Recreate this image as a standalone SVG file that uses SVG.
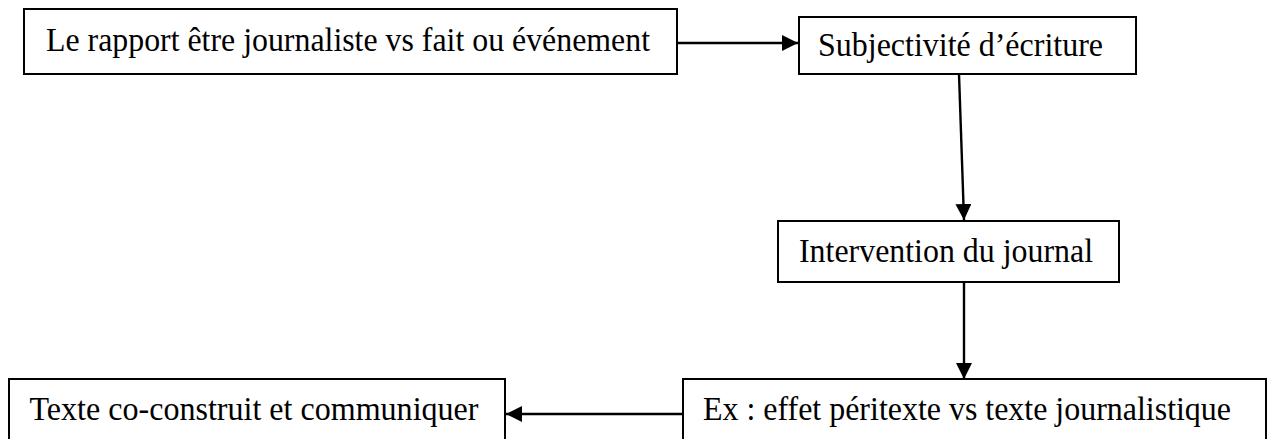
<svg xmlns="http://www.w3.org/2000/svg" width="1272" height="439" viewBox="0 0 1272 439">
  <style>
    .box { fill: #ffffff; stroke: #000000; stroke-width: 2; }
    .label { font-family: "Liberation Serif", "Times New Roman", serif; font-size: 34px; fill: #000000; }
    .edge { fill: none; stroke: #000000; stroke-width: 2.4; marker-end: url(#arrow); }
  </style>
  <defs>
    <marker id="arrow" markerUnits="userSpaceOnUse" markerWidth="17" markerHeight="17" refX="16" refY="8" orient="auto">
      <path d="M0,0 L16,8 L0,16 z" fill="#000000"/>
    </marker>
  </defs>
  <rect width="1272" height="439" fill="#ffffff"/>

  <g id="connectors">
    <line class="edge" x1="677" y1="43" x2="798" y2="43"/>
    <line class="edge" x1="959" y1="74" x2="964" y2="220"/>
    <line class="edge" x1="964" y1="282" x2="964" y2="379"/>
    <line class="edge" x1="683" y1="414" x2="506" y2="414"/>
  </g>

  <g id="node-rapport">
    <rect class="box" x="24" y="9" width="653" height="65"/>
    <text class="label" x="46" y="51" textLength="604" lengthAdjust="spacingAndGlyphs">Le rapport être journaliste vs fait ou événement</text>
  </g>

  <g id="node-subjectivite">
    <rect class="box" x="799" y="17" width="337" height="57"/>
    <text class="label" x="818" y="56" textLength="285" lengthAdjust="spacingAndGlyphs">Subjectivité d’écriture</text>
  </g>

  <g id="node-intervention">
    <rect class="box" x="778" y="221" width="341" height="61"/>
    <text class="label" x="799" y="262" textLength="294" lengthAdjust="spacingAndGlyphs">Intervention du journal</text>
  </g>

  <g id="node-peritexte">
    <rect class="box" x="683" y="379" width="583" height="75"/>
    <text class="label" x="703" y="420" textLength="528" lengthAdjust="spacingAndGlyphs">Ex : effet péritexte vs texte journalistique</text>
  </g>

  <g id="node-texte">
    <rect class="box" x="9" y="379" width="496" height="75"/>
    <text class="label" x="29.5" y="420" textLength="449" lengthAdjust="spacingAndGlyphs">Texte co-construit et communiquer</text>
  </g>
</svg>
